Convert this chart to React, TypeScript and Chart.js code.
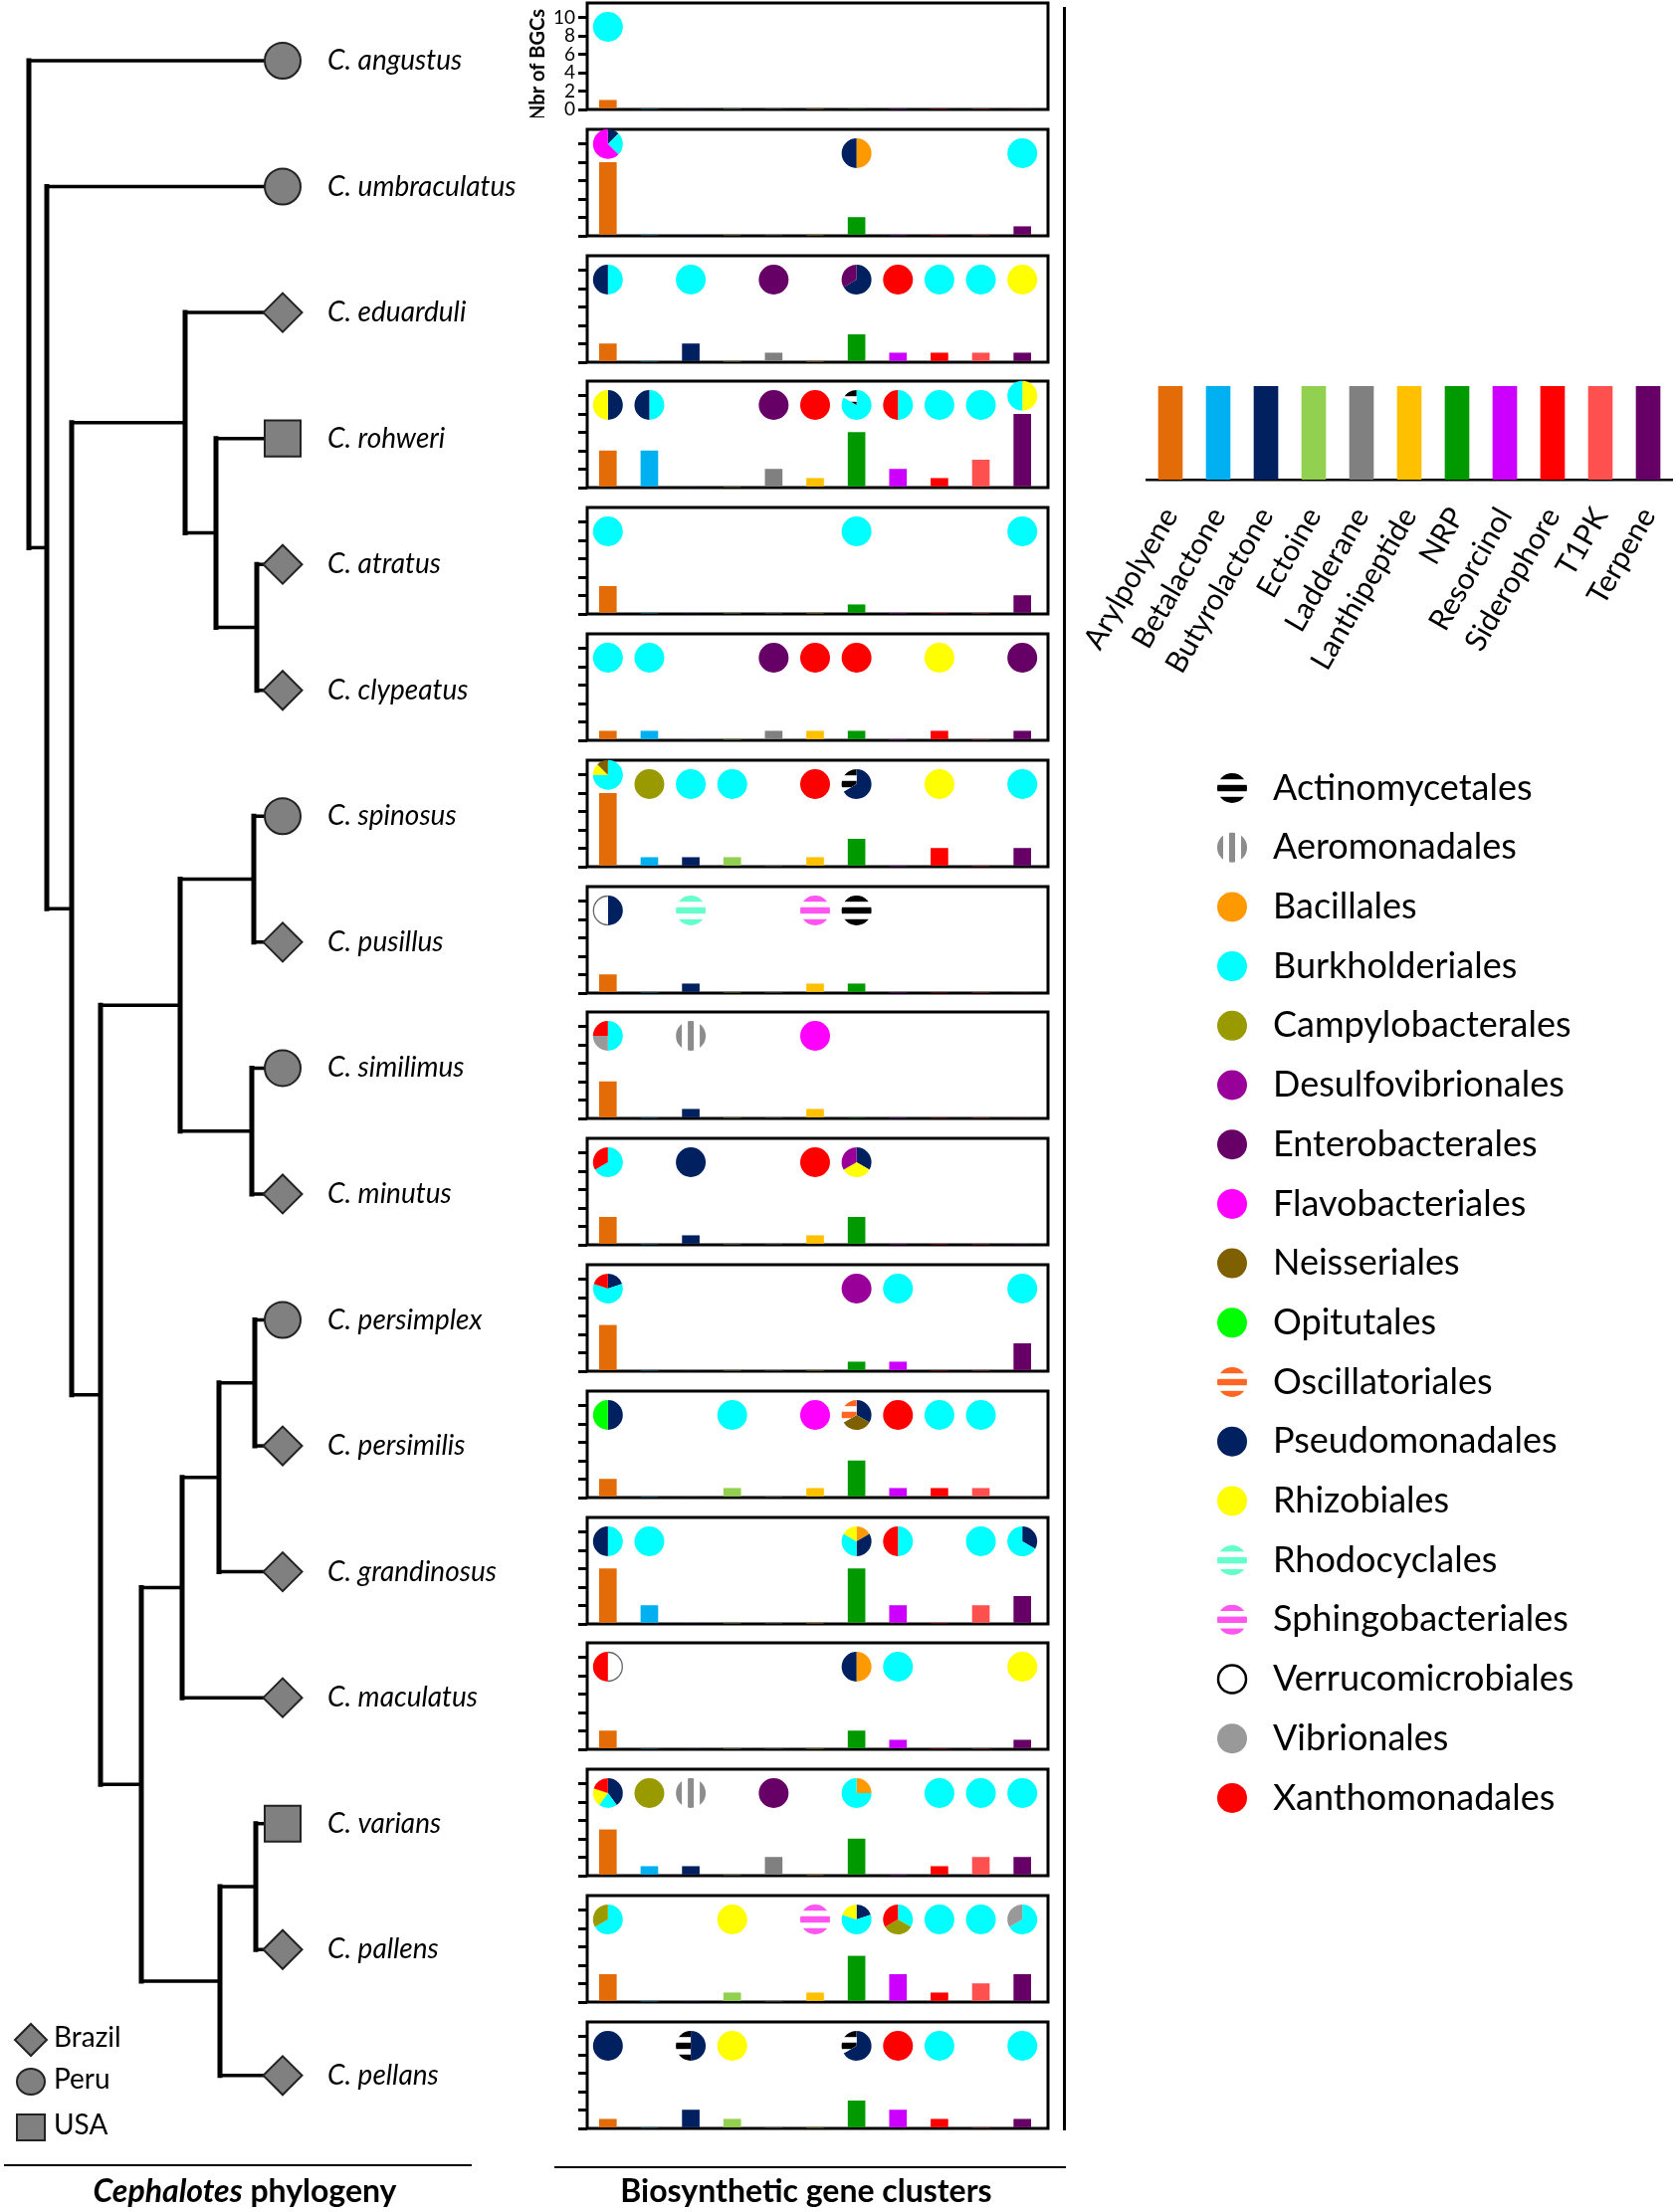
import React, { useEffect, useRef } from 'react';
import { Chart, registerables } from 'chart.js';
Chart.register(...registerables);

const FONT = 'Lato, "Open Sans", sans-serif';

// ---------------- data ----------------
const bgcTypes = ['Arylpolyene', 'Betalactone', 'Butyrolactone', 'Ectoine', 'Ladderane', 'Lanthipeptide', 'NRP', 'Resorcinol', 'Siderophore', 'T1PK', 'Terpene'];
const bgcColors = ['#E36C09', '#00B0F0', '#002060', '#92D050', '#808080', '#FFC000', '#009900', '#CC00FF', '#FF0000', '#FF5050', '#660066'];
const legendSwatch = [1, 1, 1, 1, 1, 1, 1, 1, 1, 1, 1];

const orderCodes = ['Ac', 'Ae', 'Ba', 'Bu', 'Ca', 'De', 'En', 'Fl', 'Ne', 'Op', 'Os', 'Ps', 'Rz', 'Rh', 'Sp', 'Ve', 'Vi', 'Xa'];
const orderNames = ['Actinomycetales', 'Aeromonadales', 'Bacillales', 'Burkholderiales', 'Campylobacterales', 'Desulfovibrionales', 'Enterobacterales', 'Flavobacteriales', 'Neisseriales', 'Opitutales', 'Oscillatoriales', 'Pseudomonadales', 'Rhizobiales', 'Rhodocyclales', 'Sphingobacteriales', 'Verrucomicrobiales', 'Vibrionales', 'Xanthomonadales'];
const orderColors = ['#000000', '#8C8C8C', '#FF9900', '#00FFFF', '#999900', '#990099', '#660066', '#FF00FF', '#7F6000', '#00FF00', '#FF6622', '#002060', '#FFFF00', '#66FFCC', '#FF55F0', '#FFFFFF', '#999999', '#FF0000'];
const orderFills = ['hstripe', 'vstripe', 'solid', 'solid', 'solid', 'solid', 'solid', 'solid', 'solid', 'solid', 'hstripe', 'solid', 'solid', 'hstripe', 'hstripe', 'outline', 'solid', 'solid'];

const species = ['C. angustus', 'C. umbraculatus', 'C. eduarduli', 'C. rohweri', 'C. atratus', 'C. clypeatus', 'C. spinosus', 'C. pusillus', 'C. similimus', 'C. minutus', 'C. persimplex', 'C. persimilis', 'C. grandinosus', 'C. maculatus', 'C. varians', 'C. pallens', 'C. pellans'];
const origins = ['Peru', 'Peru', 'Brazil', 'USA', 'Brazil', 'Brazil', 'Peru', 'Brazil', 'Peru', 'Brazil', 'Peru', 'Brazil', 'Brazil', 'Brazil', 'USA', 'Brazil', 'Brazil'];
const countryNames = ['Brazil', 'Peru', 'USA'];
const countryStyles = ['rectRot', 'circle', 'rect'];
const countryRadius = [19.5, 18, 25.5];

// tree: internal clades [depth, child1, child2]; numbers are leaf indices
const cladeNames = ['root', 'n1', 'n2', 'n3', 'n4', 'n5', 'n6', 'n7', 'n8', 'n9', 'n10', 'n11', 'n12', 'n13', 'n14', 'n15'];
const cladeDepths = [29, 47, 72, 186, 217, 258, 101, 181, 255, 253, 142, 183, 220, 256, 221, 257];
const cladeChildren: (string | number)[][] = [
  [0, 'n1'], [1, 'n2'], ['n3', 'n6'], [2, 'n4'], [3, 'n5'], [4, 5],
  ['n7', 'n10'], ['n8', 'n9'], [6, 7], [8, 9], ['n11', 'n14'], ['n12', 13],
  ['n13', 12], [10, 11], ['n15', 16], [14, 15],
];
const leafDepth = 284;

// number of BGCs per type (columns follow bgcTypes), one row per species
const bgcCounts = [
  [1, 0, 0, 0, 0, 0, 0, 0, 0, 0, 0],
  [8, 0, 0, 0, 0, 0, 2, 0, 0, 0, 1],
  [2, 0, 2, 0, 1, 0, 3, 1, 1, 1, 1],
  [4, 4, 0, 0, 2, 1, 6, 2, 1, 3, 8],
  [3, 0, 0, 0, 0, 0, 1, 0, 0, 0, 2],
  [1, 1, 0, 0, 1, 1, 1, 0, 1, 0, 1],
  [8, 1, 1, 1, 0, 1, 3, 0, 2, 0, 2],
  [2, 0, 1, 0, 0, 1, 1, 0, 0, 0, 0],
  [4, 0, 1, 0, 0, 1, 0, 0, 0, 0, 0],
  [3, 0, 1, 0, 0, 1, 3, 0, 0, 0, 0],
  [5, 0, 0, 0, 0, 0, 1, 1, 0, 0, 3],
  [2, 0, 0, 1, 0, 1, 4, 1, 1, 1, 0],
  [6, 2, 0, 0, 0, 0, 6, 2, 0, 2, 3],
  [2, 0, 0, 0, 0, 0, 2, 1, 0, 0, 1],
  [5, 1, 1, 0, 2, 0, 4, 0, 1, 2, 2],
  [3, 0, 0, 1, 0, 1, 5, 3, 1, 2, 3],
  [1, 0, 2, 1, 0, 0, 3, 2, 1, 0, 1],
];

// producing bacterial orders per BGC type (clockwise from 12 o'clock: code + count)
const producers = [
  ['Bu1', '', '', '', '', '', '', '', '', '', ''],
  ['Ps1 Bu2 Fl5', '', '', '', '', '', 'Ba1 Ps1', '', '', '', 'Bu1'],
  ['Bu1 Ps1', '', 'Bu2', '', 'En1', '', 'Ps2 En1', 'Xa1', 'Bu1', 'Bu1', 'Rz1'],
  ['Ps2 Rz2', 'Bu2 Ps2', '', '', 'En2', 'Xa1', 'Bu5 Ac1', 'Bu1 Xa1', 'Bu1', 'Bu3', 'Rz4 Bu4'],
  ['Bu3', '', '', '', '', '', 'Bu1', '', '', '', 'Bu2'],
  ['Bu1', 'Bu1', '', '', 'En1', 'Xa1', 'Xa1', '', 'Rz1', '', 'En1'],
  ['Bu6 Rz1 Ne1', 'Ca1', 'Bu1', 'Bu1', '', 'Xa1', 'Ps2 Ac1', '', 'Rz2', '', 'Bu2'],
  ['Ps1 Ve1', '', 'Rh1', '', '', 'Sp1', 'Ac1', '', '', '', ''],
  ['Bu2 Vi1 Xa1', '', 'Ae1', '', '', 'Fl1', '', '', '', '', ''],
  ['Bu2 Xa1', '', 'Ps1', '', '', 'Xa1', 'Ps1 Rz1 De1', '', '', '', ''],
  ['Ps1 Bu3 Xa1', '', '', '', '', '', 'De1', 'Bu1', '', '', 'Bu3'],
  ['Ps1 Op1', '', '', 'Bu1', '', 'Fl1', 'Ps1 Ne1 Os1', 'Xa1', 'Bu1', 'Bu1', ''],
  ['Bu1 Ps1', 'Bu2', '', '', '', '', 'Ba1 Ps2 Bu2 Rz1', 'Bu1 Xa1', '', 'Bu2', 'Ps1 Bu2'],
  ['Ve1 Xa1', '', '', '', '', '', 'Ba1 Ps1', 'Bu1', '', '', 'Rz1'],
  ['Ps2 Bu1 Rz1 Xa1', 'Ca1', 'Ae1', '', 'En2', '', 'Ba1 Bu3', '', 'Bu1', 'Bu2', 'Bu2'],
  ['Bu2 Ca1', '', '', 'Rz1', '', 'Sp1', 'Ps1 Bu3 Rz1', 'Bu1 Ca1 Xa1', 'Bu1', 'Bu2', 'Bu2 Vi1'],
  ['Ps1', '', 'Ps1 Ac1', 'Rz1', '', '', 'Ps2 Ac1', 'Xa1', 'Bu1', '', 'Bu1'],
];

// ---------------- layout ----------------
const Y_MAX = 11.6;
const PANEL_STEP = 126.8;
const PANEL_TOP0 = 3;
const PANEL_H = 107;
const AXIS_W = 100;
const AREA_W = 458;
const BOX_W = 463;
const PAD_TOP = 20;
const PAD_BOTTOM = 8;
const CANVAS_L = 490;
const CANVAS_W = 580;
const CANVAS_H = PAD_TOP + PANEL_H + PAD_BOTTOM;
const PIE_R = 15;

const LEG_L = 1075;
const LEG_T = 370;
const LEG_W = 1684 - LEG_L;
const LEG_H = 1500;
const LEG_AREA_LEFT = 1152;
const LEG_AREA_TOP = 388;
const LEG_AREA_H = 94;
const LEG_AXIS_H = 200;

// ---------------- drawing helpers ----------------
function fillSlice(ctx: CanvasRenderingContext2D, cx: number, cy: number, r: number, a0: number, a1: number, code: string, full: boolean, legend = false) {
  const k = orderCodes.indexOf(code);
  const color = orderColors[k];
  const fill = orderFills[k];
  ctx.save();
  ctx.beginPath();
  if (full) ctx.arc(cx, cy, r, 0, Math.PI * 2);
  else {
    ctx.moveTo(cx, cy);
    ctx.arc(cx, cy, r, a0, a1);
    ctx.closePath();
  }
  if (fill === 'solid') {
    ctx.fillStyle = color;
    ctx.fill();
  } else if (fill === 'outline') {
    ctx.fillStyle = '#fff';
    ctx.fill();
    ctx.beginPath();
    if (full) ctx.arc(cx, cy, r - 1, 0, Math.PI * 2);
    else ctx.arc(cx, cy, r - 0.5, a0, a1);
    ctx.strokeStyle = legend ? '#000' : '#666';
    ctx.lineWidth = legend ? 2.5 : 1.3;
    ctx.stroke();
  } else {
    ctx.clip();
    ctx.fillStyle = '#fff';
    ctx.fillRect(cx - r - 1, cy - r - 1, 2 * r + 2, 2 * r + 2);
    ctx.fillStyle = color;
    const s = r / 15;
    for (const o of [-12, 0, 12]) {
      if (fill === 'hstripe') ctx.fillRect(cx - r - 1, cy + (o - 3.2) * s, 2 * r + 2, 6.4 * s);
      else ctx.fillRect(cx + (o - 3) * s, cy - r - 1, 6 * s, 2 * r + 2);
    }
  }
  ctx.restore();
}

function drawPie(ctx: CanvasRenderingContext2D, cx: number, cy: number, r: number, spec: string) {
  const parts = spec.split(' ').map((p) => ({ code: p.slice(0, 2), n: Number(p.slice(2)) }));
  const total = parts.reduce((a, p) => a + p.n, 0);
  let a = -Math.PI / 2;
  for (const p of parts) {
    const a2 = a + (p.n / total) * Math.PI * 2;
    fillSlice(ctx, cx, cy, r, a, a2, p.code, parts.length === 1);
    a = a2;
  }
}

function drawShape(ctx: CanvasRenderingContext2D, style: string, x: number, y: number, w: number, h: number) {
  ctx.save();
  ctx.beginPath();
  if (style === 'circle') ctx.ellipse(x, y, w / 2, h / 2, 0, 0, Math.PI * 2);
  else if (style === 'rect') ctx.rect(x - w / 2, y - h / 2, w, h);
  else {
    ctx.moveTo(x - w / 2, y);
    ctx.lineTo(x, y - h / 2);
    ctx.lineTo(x + w / 2, y);
    ctx.lineTo(x, y + h / 2);
    ctx.closePath();
  }
  ctx.fillStyle = '#808080';
  ctx.fill();
  ctx.strokeStyle = '#222';
  ctx.lineWidth = 2;
  ctx.stroke();
  ctx.restore();
}

function panelTop(i: number) {
  return Math.round(PANEL_TOP0 + PANEL_STEP * i);
}

export default function App() {
  const treeRef = useRef<HTMLCanvasElement>(null);
  const legendRef = useRef<HTMLCanvasElement>(null);
  const panelRefs = useRef<(HTMLCanvasElement | null)[]>([]);

  useEffect(() => {
    const charts: Chart[] = [];

    // ---------- phylogeny ----------
    const yOf = (c: string | number): number => {
      if (typeof c === 'number') return c;
      const k = cladeNames.indexOf(c);
      return (yOf(cladeChildren[k][0]) + yOf(cladeChildren[k][1])) / 2;
    };
    const depthOf = (c: string | number) => (typeof c === 'number' ? leafDepth : cladeDepths[cladeNames.indexOf(c)]);
    const lineSets: any[] = [];
    cladeNames.forEach((_, k) => {
      const d = cladeDepths[k];
      const [c1, c2] = cladeChildren[k];
      const y1 = yOf(c1);
      const y2 = yOf(c2);
      const common = { showLine: true, pointRadius: 0, borderColor: '#000', borderCapStyle: 'square', order: 2 };
      lineSets.push({ ...common, data: [{ x: d, y: y1 }, { x: d, y: y2 }], borderWidth: 5 });
      lineSets.push({ ...common, data: [{ x: d, y: y1 }, { x: depthOf(c1), y: y1 }], borderWidth: 3.5 });
      lineSets.push({ ...common, data: [{ x: d, y: y2 }, { x: depthOf(c2), y: y2 }], borderWidth: 3.5 });
    });
    const markerSets = countryNames.map((c, ci) => ({
      label: c,
      data: species.map((_, i) => i).filter((i) => origins[i] === c).map((i) => ({ x: leafDepth, y: i })),
      pointStyle: countryStyles[ci],
      pointRadius: countryRadius[ci],
      backgroundColor: '#808080',
      borderColor: '#222',
      borderWidth: 2,
      showLine: false,
      order: 0,
    }));
    const treeCanvas = treeRef.current!;
    const leafPx0 = 61;
    const leafStep = 126.55;
    charts.push(
      new Chart(treeCanvas, {
        type: 'scatter',
        data: { datasets: [...markerSets, ...lineSets] as any },
        options: {
          responsive: false,
          animation: false,
          devicePixelRatio: 1,
          layout: { padding: 0, autoPadding: false },
          plugins: { legend: { display: false }, tooltip: { enabled: false } },
          scales: {
            x: { type: 'linear', display: false, min: 0, max: 540 },
            y: { type: 'linear', display: false, reverse: true, min: -leafPx0 / leafStep, max: (2223 - leafPx0) / leafStep },
          },
        } as any,
        plugins: [
          {
            id: 'treeText',
            afterDraw(chart: any) {
              const { ctx, scales } = chart;
              ctx.save();
              ctx.fillStyle = '#000';
              ctx.textBaseline = 'middle';
              ctx.font = `italic 28px ${FONT}`;
              species.forEach((s, i) => {
                ctx.fillText(s, scales.x.getPixelForValue(leafDepth) + 45, scales.y.getPixelForValue(i));
              });
              // country legend
              const ly = [2050, 2092, 2138];
              const lw = [[32, 32], [28, 26], [28, 26]];
              countryNames.forEach((c, ci) => {
                drawShape(ctx, countryStyles[ci], 31, ly[ci], lw[ci][0], lw[ci][1]);
                ctx.fillStyle = '#000';
                ctx.font = `28px ${FONT}`;
                ctx.fillText(c, 54, ly[ci] - 2);
              });
              ctx.restore();
            },
          } as any,
        ],
      })
    );

    // ---------- BGC panels ----------
    species.forEach((_, i) => {
      const cv = panelRefs.current[i]!;
      const counts = bgcCounts[i];
      const prods = producers[i];
      charts.push(
        new Chart(cv, {
          type: 'bar',
          data: {
            labels: bgcTypes,
            datasets: [{ data: counts, backgroundColor: bgcColors, barThickness: 17, borderWidth: 0 }],
          },
          options: {
            responsive: false,
            animation: false,
            devicePixelRatio: 1,
            layout: { padding: { top: PAD_TOP, bottom: PAD_BOTTOM, left: 0, right: CANVAS_W - AXIS_W - AREA_W }, autoPadding: false },
            plugins: { legend: { display: false }, tooltip: { enabled: false } },
            scales: {
              x: { display: false },
              y: {
                min: 0,
                max: Y_MAX,
                afterFit: (s: any) => {
                  s.width = AXIS_W;
                  s.paddingTop = 0;
                  s.paddingBottom = 0;
                },
                ticks: {
                  stepSize: 2,
                  includeBounds: false,
                  autoSkip: false,
                  display: i === 0,
                  color: '#000',
                  padding: 3,
                  font: { family: FONT, size: 19 },
                },
                grid: { display: true, drawOnChartArea: false, drawTicks: true, tickLength: 9, color: '#000', lineWidth: 3 },
                border: { display: false },
              },
            },
          } as any,
          plugins: [
            {
              id: 'box',
              beforeDatasetsDraw(chart: any) {
                const { ctx, chartArea: a } = chart;
                ctx.save();
                ctx.strokeStyle = '#000';
                ctx.lineWidth = 3;
                ctx.strokeRect(a.left, a.top, BOX_W, a.bottom - a.top);
                if (i === 0) {
                  ctx.translate(51, a.top + 62);
                  ctx.rotate(-Math.PI / 2);
                  ctx.fillStyle = '#000';
                  ctx.font = `bold 20px ${FONT}`;
                  ctx.textAlign = 'center';
                  ctx.textBaseline = 'middle';
                  ctx.fillText('Nbr of BGCs', 0, 0);
                }
                ctx.restore();
              },
              afterDatasetsDraw(chart: any) {
                const { ctx, scales } = chart;
                prods.forEach((spec, k) => {
                  if (!spec) return;
                  const level = Math.max(9, counts[k] + 2);
                  drawPie(ctx, scales.x.getPixelForValue(k), scales.y.getPixelForValue(level), PIE_R, spec);
                });
              },
            } as any,
          ],
        })
      );
    });

    // ---------- BGC colour legend + order legend ----------
    charts.push(
      new Chart(legendRef.current!, {
        type: 'bar',
        data: { labels: bgcTypes, datasets: [{ data: legendSwatch, backgroundColor: bgcColors, barThickness: 24, borderWidth: 0 }] },
        options: {
          responsive: false,
          animation: false,
          devicePixelRatio: 1,
          layout: {
            padding: {
              left: LEG_AREA_LEFT - LEG_L,
              right: 4,
              top: LEG_AREA_TOP - LEG_T,
              bottom: LEG_H - (LEG_AREA_TOP - LEG_T) - LEG_AREA_H - LEG_AXIS_H,
            },
            autoPadding: false,
          },
          plugins: { legend: { display: false }, tooltip: { enabled: false } },
          scales: {
            x: {
              afterFit: (s: any) => {
                s.height = LEG_AXIS_H;
                s.paddingLeft = 0;
                s.paddingRight = 0;
              },
              ticks: { minRotation: 60, maxRotation: 60, color: '#000', padding: 22, font: { family: FONT, size: 30 }, autoSkip: false },
              grid: { display: true, drawOnChartArea: false, drawTicks: false },
              border: { display: true, color: '#000', width: 2.5 },
            },
            y: { display: false, min: 0, max: 1 },
          },
        } as any,
        plugins: [
          {
            id: 'orderLegend',
            afterDraw(chart: any) {
              const { ctx } = chart;
              ctx.save();
              orderNames.forEach((nm, k) => {
                const y = 792 + 59.7 * k - LEG_T;
                const x = 1238 - LEG_L;
                fillSlice(ctx, x, y, 15, 0, Math.PI * 2, orderCodes[k], true, true);
                ctx.fillStyle = '#000';
                ctx.textBaseline = 'middle';
                ctx.font = `36px ${FONT}`;
                ctx.fillText(nm, 1279 - LEG_L, y);
              });
              ctx.restore();
            },
          } as any,
        ],
      })
    );

    return () => charts.forEach((c) => c.destroy());
  }, []);

  return (
    <div style={{ position: 'absolute', left: 0, top: 0, width: 1684, height: 2223, background: '#fff', overflow: 'hidden' }}>
      <canvas ref={treeRef} width={540} height={2223} style={{ position: 'absolute', left: 0, top: 0 }} />
      {species.map((_, i) => (
        <canvas
          key={i}
          ref={(el) => {
            panelRefs.current[i] = el;
          }}
          width={CANVAS_W}
          height={CANVAS_H}
          style={{ position: 'absolute', left: CANVAS_L, top: panelTop(i) - PAD_TOP }}
        />
      ))}
      <div style={{ position: 'absolute', left: 1068, top: 7, width: 3, height: 2134, background: '#000' }} />
      <canvas ref={legendRef} width={LEG_W} height={LEG_H} style={{ position: 'absolute', left: LEG_L, top: LEG_T }} />
      <div style={{ position: 'absolute', left: 4, top: 2175, width: 470, height: 2, background: '#000' }} />
      <div style={{ position: 'absolute', left: 557, top: 2177, width: 514, height: 2, background: '#000' }} />
      <div style={{ position: 'absolute', left: 0, width: 492, top: 2182, textAlign: 'center', font: `bold 32px ${FONT}`, lineHeight: '38px', color: '#000' }}>
        <i>Cephalotes</i> phylogeny
      </div>
      <div style={{ position: 'absolute', left: 560, width: 500, top: 2182, textAlign: 'center', font: `bold 32px ${FONT}`, lineHeight: '38px', color: '#000' }}>
        Biosynthetic gene clusters
      </div>
    </div>
  );
}
